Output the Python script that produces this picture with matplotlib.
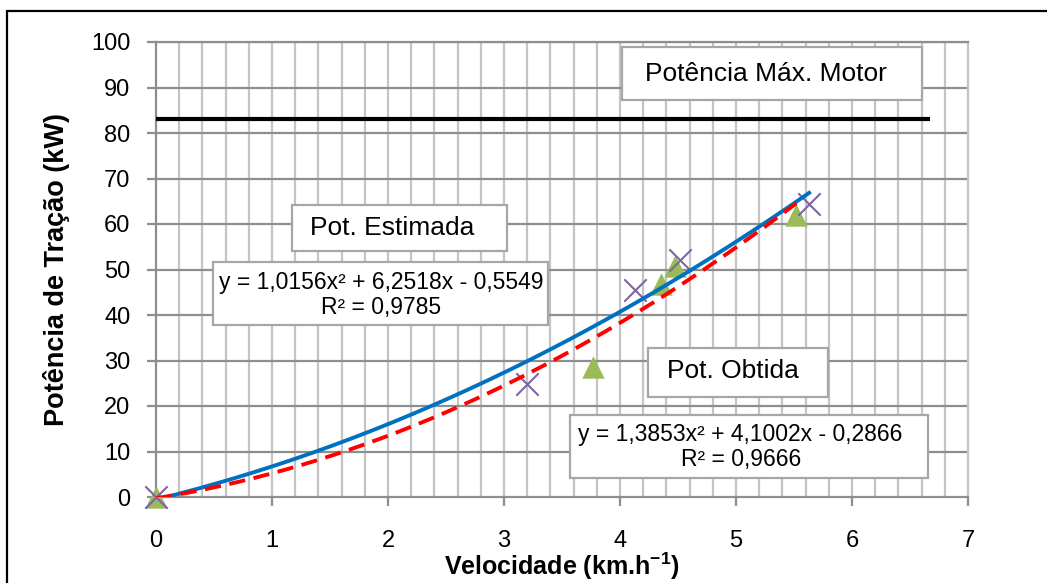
import numpy as np
import matplotlib
matplotlib.use("Agg")
import matplotlib.pyplot as plt
from matplotlib.patches import Rectangle

plt.rcParams['font.family'] = ['Liberation Sans', 'DejaVu Sans']
plt.rcParams['mathtext.fontset'] = 'custom'
plt.rcParams['mathtext.rm'] = 'Liberation Sans'
plt.rcParams['mathtext.bf'] = 'Liberation Sans:bold'

# Measured points
vel_estimada = [0.0, 3.20, 4.13, 4.52, 5.63]
pot_estimada = [0.0, 24.8, 45.5, 52.0, 64.5]
vel_obtida = [0.0, 3.77, 4.35, 4.47, 5.52]
pot_obtida = [0.0, 28.6, 46.8, 50.8, 62.0]

# Quadratic trend lines (a, b, c) and R²
coef_estimada = [1.0156, 6.2518, -0.5549]
r2_estimada = 0.9785
coef_obtida = [1.3853, 4.1002, -0.2866]
r2_obtida = 0.9666

pot_max_motor = 83.0
xticks = list(range(0, 8))
yticks = list(range(0, 101, 10))


def fmt(v, n=4):
    return f"{abs(v):.{n}f}".replace('.', ',')


def eq_label(c, r2):
    sign_b = '+' if c[1] >= 0 else '-'
    sign_c = '+' if c[2] >= 0 else '-'
    return (f"y = {fmt(c[0])}x\u00b2 {sign_b} {fmt(c[1])}x {sign_c} {fmt(c[2])}\n"
            f"R\u00b2 = {fmt(r2)}")


fig = plt.figure(figsize=(10.47, 5.83), dpi=100)
ax = fig.add_axes([156 / 1047, 1 - 497 / 583, (968 - 156) / 1047, (497 - 42) / 583])

ax.set_xlim(0, 7)
ax.set_ylim(0, 100)

# grid: light vertical lines every 0.2, darker horizontal lines every 10
for xv in np.arange(0.2, 7.0, 0.2):
    ax.axvline(xv, color='#c4c4c4', lw=1.6, zorder=0)
for yv in yticks[1:]:
    ax.axhline(yv, color='#8e8e8e', lw=1.6, zorder=0)

for side in ['left', 'bottom', 'right', 'top']:
    ax.spines[side].set_color('#8e8e8e' if side in ('left', 'bottom', 'top') else '#c4c4c4')
    ax.spines[side].set_linewidth(1.6)

ax.set_xticks(xticks)
ax.set_yticks(yticks)
ax.tick_params(axis='both', colors='#8e8e8e', length=6.5, width=1.6, labelcolor='black', labelsize=17)
ax.tick_params(axis='x', pad=17)
ax.tick_params(axis='y', pad=12)

# max motor power
ax.plot([0, 6.67], [pot_max_motor, pot_max_motor], color='black', lw=3, zorder=3, solid_capstyle='butt')

# data points
ax.scatter(vel_obtida, pot_obtida, marker='^', s=260, color='#9bbb59', zorder=4, linewidths=0,
           clip_on=False)
ax.scatter(vel_estimada, pot_estimada, marker='x', s=260, color='#8064a2', zorder=5, linewidths=1.5,
           clip_on=False)

# trend lines
xe = np.linspace(0, max(vel_estimada), 200)
ye = np.polyval(coef_estimada, xe)
ax.plot(xe, ye, color='#0070c0', lw=2.8, zorder=6)
xo = np.linspace(0, max(vel_obtida), 200)
yo = np.polyval(coef_obtida, xo)
ax.plot(xo, yo, color='#ff0000', lw=2.8, ls=(0, (4.2, 2.2)), zorder=6)


def box(x0, y0, x1, y1, text, tx, ty, size=19, ls=1.2):
    ax.add_patch(Rectangle((x0, y0), x1 - x0, y1 - y0, facecolor='white',
                           edgecolor='#a6a6a6', lw=1.6, zorder=7))
    ax.text(tx, ty, text, ha='center', va='center', fontsize=size, zorder=8,
            linespacing=ls)


box(4.017, 87.25, 6.603, 98.9, 'Potência Máx. Motor', 5.26, 93.0)
box(1.172, 54.07, 3.026, 64.2, 'Pot. Estimada', 2.04, 59.1)
box(0.491, 37.8, 3.379, 51.6, eq_label(coef_estimada, r2_estimada), 1.94, 44.4, size=16.5, ls=1.08)
box(4.241, 21.98, 5.793, 32.75, 'Pot. Obtida', 4.97, 27.6)
box(3.569, 4.18, 6.655, 18.0, eq_label(coef_obtida, r2_obtida), 5.04, 10.9, size=16.5, ls=1.12)

ax.set_xlabel(r'Velocidade (km.h$\mathbf{^{-1}}$)', fontsize=18, fontweight='bold', labelpad=-1)
ax.set_ylabel('Potência de Tração (kW)', fontsize=19.5, fontweight='bold', labelpad=15)

# outer frame
fig.patches.append(Rectangle((7 / 1047, -0.1), 1.2, 1 - 11 / 583 + 0.1, transform=fig.transFigure,
                             fill=False, edgecolor='black', lw=1.6))

fig.savefig('out.png', dpi=100)
